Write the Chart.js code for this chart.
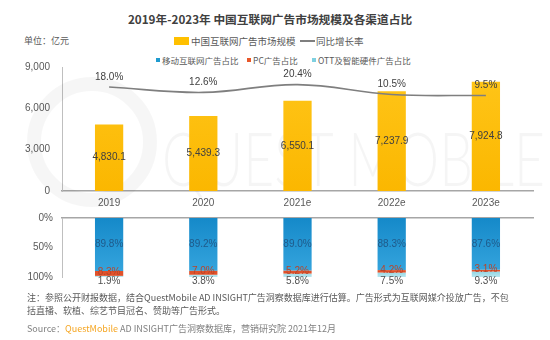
<!DOCTYPE html>
<html>
<head>
<meta charset="utf-8">
<script src="https://cdn.jsdelivr.net/npm/chart.js@4.4.1/dist/chart.umd.min.js"></script>
<style>
  html, body { margin: 0; padding: 0; background: #fff; }
  body { width: 550px; height: 340px; position: relative; overflow: hidden;
         font-family: "Noto Sans CJK SC", "Noto Sans", sans-serif; color: #595959; }
  .abs { position: absolute; white-space: nowrap; }
  #title { left: 0; width: 540px; top: 9px; text-align: center; font-size: 11.7px;
           font-weight: bold; color: #404040; line-height: 20px; }
  .legend { font-size: 9.5px; line-height: 12px; }
  .legend2 { font-size: 8.5px; line-height: 10px; }
  .sw { position: absolute; }
  #topWrap { position: absolute; left: 0; top: 60px; width: 550px; height: 152px; }
  #botWrap { position: absolute; left: 0; top: 208px; width: 550px; height: 82px; }
  #note { left: 27px; top: 291px; font-size: 9px; line-height: 13px; color: #595959; }
  #source { left: 27px; top: 322px; font-size: 9px; line-height: 13px; color: #808080; }
  #source span { color: #F5A623; }
</style>
</head>
<body>
<div id="title" class="abs">2019年-2023年 中国互联网广告市场规模及各渠道占比</div>
<div class="abs legend" style="left:24px;top:35px;font-size:9px;">单位：亿元</div>

<!-- 图例第一行 -->
<div class="sw" style="left:174px;top:37px;width:15px;height:8px;background:#FFC000;"></div>
<div class="abs legend" style="left:191px;top:35px;">中国互联网广告市场规模</div>
<div class="sw" style="left:300px;top:40px;width:15px;height:2px;background:#7F7F7F;"></div>
<div class="abs legend" style="left:316px;top:35px;">同比增长率</div>

<!-- 图例第二行 -->
<div class="sw" style="left:156px;top:58px;width:4px;height:4px;background:#1F9BCF;"></div>
<div class="abs legend2" style="left:162px;top:55px;">移动互联网广告占比</div>
<div class="sw" style="left:247px;top:58px;width:4px;height:4px;background:#E8572A;"></div>
<div class="abs legend2" style="left:253px;top:55px;">PC广告占比</div>
<div class="sw" style="left:312px;top:58px;width:4px;height:4px;background:#7FD0E0;"></div>
<div class="abs legend2" style="left:318px;top:55px;">OTT及智能硬件广告占比</div>

<div id="topWrap"><canvas id="topChart"></canvas></div>
<div id="botWrap"><canvas id="botChart"></canvas></div>

<div id="note" class="abs">注：参照公开财报数据，结合QuestMobile AD INSIGHT广告洞察数据库进行估算。广告形式为互联网媒介投放广告，不包<br>括直播、软植、综艺节目冠名、赞助等广告形式。</div>
<div id="source" class="abs">Source：<span>QuestMobile</span> AD INSIGHT广告洞察数据库，营销研究院 2021年12月</div>

<script>
// 年份
const years = ["2019", "2020", "2021e", "2022e", "2023e"];
// 市场规模（亿元）
const marketSize = [4830.1, 5439.3, 6550.1, 7237.9, 7924.8];
// 同比增长率（%）
const growthRate = [18.0, 12.6, 20.4, 10.5, 9.5];
// 各渠道占比（%）
const mobileShare = [89.8, 89.2, 89.0, 88.3, 87.6];
const pcShare = [8.3, 7.0, 5.2, 4.2, 3.1];
const ottShare = [1.9, 3.8, 5.8, 7.5, 9.3];
// 刻度
const sizeTicks = [0, 3000, 6000, 9000];
const shareTicks = [0, 50, 100];

const numFont = "'Liberation Sans', Arial, sans-serif";

// 竖向渐变
function vGradient(ctx, area, top, bottom) {
  const g = ctx.createLinearGradient(0, area.top, 0, area.bottom);
  g.addColorStop(0, top);
  g.addColorStop(1, bottom);
  return g;
}

// 水印
const watermark = {
  id: "watermark",
  beforeDatasetsDraw(chart) {
    const ctx = chart.ctx;
    ctx.save();
    ctx.strokeStyle = "rgba(0,0,0,0.035)";
    ctx.lineWidth = 14;
    ctx.beginPath();
    ctx.arc(92, 82, 58, 0, Math.PI * 2);
    ctx.stroke();
    ctx.fillStyle = "rgba(0,0,0,0.04)";
    ctx.font = "300 74px Lato, sans-serif";
    ctx.textBaseline = "alphabetic";
    const text = "QUEST MOBILE";
    const w = ctx.measureText(text).width;
    ctx.translate(162, 126);
    ctx.scale(383 / w, 1);
    ctx.fillText(text, 0, 0);
    ctx.restore();
  },
};

// 上图数值标签
const topLabels = {
  id: "topLabels",
  afterDatasetsDraw(chart) {
    const ctx = chart.ctx;
    ctx.save();
    ctx.font = "10px " + numFont;
    ctx.fillStyle = "#404040";
    ctx.textAlign = "center";
    ctx.textBaseline = "middle";
    chart.getDatasetMeta(0).data.forEach((bar, i) => {
      const txt = marketSize[i].toLocaleString("en-US", { minimumFractionDigits: 1 });
      ctx.fillText(txt, bar.x, (bar.y + bar.base) / 2);
    });
    chart.getDatasetMeta(1).data.forEach((pt, i) => {
      ctx.fillText(growthRate[i].toFixed(1) + "%", pt.x, pt.y - 10);
    });
    ctx.restore();
  },
};

// 下图数值标签
const botLabels = {
  id: "botLabels",
  afterDatasetsDraw(chart) {
    const ctx = chart.ctx;
    ctx.save();
    ctx.font = "10px " + numFont;
    ctx.textAlign = "center";
    ctx.textBaseline = "middle";
    ctx.fillStyle = "#1F5A8A";
    chart.getDatasetMeta(0).data.forEach((bar, i) => {
      ctx.fillText(mobileShare[i].toFixed(1) + "%", bar.x, (bar.y + bar.base) / 2);
    });
    ctx.fillStyle = "#B8452A";
    chart.getDatasetMeta(1).data.forEach((bar, i) => {
      ctx.fillText(pcShare[i].toFixed(1) + "%", bar.x, (bar.y + bar.base) / 2 - 1);
    });
    ctx.fillStyle = "#505050";
    chart.getDatasetMeta(2).data.forEach((bar, i) => {
      ctx.fillText(ottShare[i].toFixed(1) + "%", bar.x, Math.max(bar.y, bar.base) + 4);
    });
    ctx.restore();
  },
};

// 上图：市场规模 + 增长率
new Chart(document.getElementById("topChart"), {
  data: {
    labels: years,
    datasets: [
      {
        type: "bar",
        data: marketSize,
        yAxisID: "y",
        backgroundColor: (c) => c.chart.chartArea
          ? vGradient(c.chart.ctx, c.chart.chartArea, "#FFC61A", "#FBB700")
          : "#FFC000",
        barPercentage: 0.3,
        categoryPercentage: 1,
        order: 2,
      },
      {
        type: "line",
        data: growthRate,
        yAxisID: "y1",
        borderColor: "#7F7F7F",
        borderWidth: 1.6,
        pointRadius: 0,
        tension: 0.4,
        order: 1,
      },
    ],
  },
  options: {
    responsive: true,
    maintainAspectRatio: false,
    animation: false,
    layout: { padding: { top: 7, right: 17, left: 0, bottom: 0 } },
    plugins: { legend: { display: false }, tooltip: { enabled: false } },
    scales: {
      x: {
        grid: { display: false, drawTicks: true, tickLength: 6 },
        border: { color: "#A6A6A6", width: 1.5 },
        ticks: { font: { size: 10, family: numFont }, color: "#595959", padding: 0 },
        afterFit: (s) => { s.height = 21; },
      },
      y: {
        min: 0,
        max: 9000,
        afterBuildTicks: (s) => { s.ticks = sizeTicks.map((v) => ({ value: v })); },
        grid: { display: false, drawTicks: true, tickLength: 12 },
        border: { color: "#BFBFBF", width: 1 },
        ticks: {
          font: { size: 10, family: numFont },
          color: "#595959",
          padding: 0,
          callback: (v) => v.toLocaleString("en-US"),
        },
        afterFit: (s) => { s.width = 62; },
      },
      y1: { display: false, min: -86, max: 38 },
    },
  },
  plugins: [watermark, topLabels],
});

// 下图：渠道占比
new Chart(document.getElementById("botChart"), {
  type: "bar",
  data: {
    labels: years,
    datasets: [
      {
        data: mobileShare,
        backgroundColor: (c) => c.chart.chartArea
          ? vGradient(c.chart.ctx, c.chart.chartArea, "#1589C9", "#38A7DF")
          : "#1F9BCF",
      },
      { data: pcShare, backgroundColor: "#E0522B" },
      {
        data: ottShare,
        backgroundColor: (c) => c.chart.chartArea
          ? vGradient(c.chart.ctx, { top: c.chart.chartArea.bottom - 8, bottom: c.chart.chartArea.bottom + 2 }, "#7FD0E0", "#C8ECF3")
          : "#7FD0E0",
      },
    ],
  },
  options: {
    responsive: true,
    maintainAspectRatio: false,
    animation: false,
    datasets: { bar: { barPercentage: 0.3, categoryPercentage: 1 } },
    layout: { padding: { top: 10, right: 17, left: 0, bottom: 13 } },
    plugins: { legend: { display: false }, tooltip: { enabled: false } },
    scales: {
      x: {
        position: "top",
        stacked: true,
        grid: { display: false, drawTicks: false },
        border: { color: "#A6A6A6", width: 1.5 },
        ticks: { display: false, padding: 0 },
        afterFit: (s) => { s.height = 0; },
      },
      y: {
        stacked: true,
        reverse: true,
        min: 0,
        max: 100,
        afterBuildTicks: (s) => { s.ticks = shareTicks.map((v) => ({ value: v })); },
        grid: { display: false, drawTicks: true, tickLength: 9 },
        border: { color: "#BFBFBF", width: 1 },
        ticks: {
          font: { size: 10, family: numFont },
          color: "#595959",
          padding: 0,
          callback: (v) => v + "%",
        },
        afterFit: (s) => { s.width = 62; },
      },
    },
  },
  plugins: [botLabels],
});
</script>
</body>
</html>
